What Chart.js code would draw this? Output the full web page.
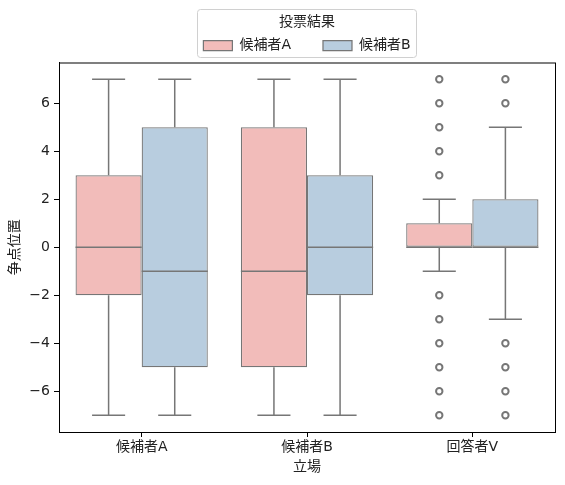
<!DOCTYPE html>
<html>
<head>
<meta charset="utf-8">
<script src="https://cdn.jsdelivr.net/npm/chart.js@4.4.1/dist/chart.umd.min.js"></script>
<style>
  body { margin: 0; background: #fff; }
</style>
</head>
<body>
<canvas id="myChart" width="565" height="485"></canvas>
<script>
// categories on the x axis
const categories = ["候補者A", "候補者B", "回答者V"];
const seriesNames = ["候補者A", "候補者B"];

// box stats per series, one value per category
const q1A = [-2, -5, 0];
const medA = [0, -1, 0];
const q3A = [3, 5, 1];
const loA = [-7, -7, -1];
const hiA = [7, 7, 2];
const outA = [[], [], [3, 4, 5, 6, 7, -2, -3, -4, -5, -6, -7]];

const q1B = [-5, -2, 0];
const medB = [-1, 0, 0];
const q3B = [5, 3, 2];
const loB = [-7, -7, -3];
const hiB = [7, 7, 5];
const outB = [[], [], [6, 7, -4, -5, -6, -7]];

const yTicks = [-6, -4, -2, 0, 2, 4, 6];

const stats = [
  { q1: q1A, med: medA, q3: q3A, lo: loA, hi: hiA, out: outA },
  { q1: q1B, med: medB, q3: q3B, lo: loB, hi: hiB, out: outB },
];

const lineGray = "#767676";
const textColor = "#222";
const fontFamily = "'DejaVu Sans', 'Noto Sans CJK JP', sans-serif";
const fontSize = 14;
const legendGap = 32;

// whiskers, medians, fliers, frame
const boxPlugin = {
  id: "boxParts",
  afterLayout(chart) {
    // center legend over the plot area
    const lg = chart.legend;
    lg.left = chart.chartArea.left;
    lg.right = chart.chartArea.right;
  },
  beforeDraw(chart) {
    const lg = chart.legend;
    const ctx = chart.ctx;
    const cx = (lg.left + lg.right) / 2;
    const w = lg.lineWidths[0] - legendGap + 12;
    const x0 = Math.round(cx - w / 2);
    const y0 = lg.top + 2;
    const h = 48;
    ctx.save();
    ctx.fillStyle = "#fff";
    ctx.strokeStyle = "#d0d0d0";
    ctx.lineWidth = 1;
    ctx.beginPath();
    ctx.roundRect(x0 + 0.5, y0 + 0.5, Math.round(w), h, 3);
    ctx.fill();
    ctx.stroke();
    ctx.restore();
  },
  afterDatasetsDraw(chart) {
    const ctx = chart.ctx;
    const y = chart.scales.y;
    ctx.save();
    ctx.strokeStyle = lineGray;
    ctx.lineWidth = 1.5;
    stats.forEach((s, d) => {
      const meta = chart.getDatasetMeta(d);
      meta.data.forEach((bar, i) => {
        const x = bar.x;
        const w = bar.width;
        ctx.beginPath();
        // whiskers
        ctx.moveTo(x, y.getPixelForValue(s.q3[i]));
        ctx.lineTo(x, y.getPixelForValue(s.hi[i]));
        ctx.moveTo(x, y.getPixelForValue(s.q1[i]));
        ctx.lineTo(x, y.getPixelForValue(s.lo[i]));
        // caps
        ctx.moveTo(x - w / 4, y.getPixelForValue(s.hi[i]));
        ctx.lineTo(x + w / 4, y.getPixelForValue(s.hi[i]));
        ctx.moveTo(x - w / 4, y.getPixelForValue(s.lo[i]));
        ctx.lineTo(x + w / 4, y.getPixelForValue(s.lo[i]));
        // median
        ctx.moveTo(x - w / 2, y.getPixelForValue(s.med[i]));
        ctx.lineTo(x + w / 2, y.getPixelForValue(s.med[i]));
        ctx.stroke();
        // fliers
        ctx.lineWidth = 2;
        s.out[i].forEach((v) => {
          ctx.beginPath();
          ctx.arc(x, y.getPixelForValue(v), 3.2, 0, Math.PI * 2);
          ctx.stroke();
        });
        ctx.lineWidth = 1.5;
      });
    });
    // axes frame
    const a = chart.chartArea;
    ctx.strokeStyle = "#000";
    ctx.lineWidth = 1;
    ctx.strokeRect(a.left + 0.5, a.top + 0.5, a.right - a.left, a.bottom - a.top);
    ctx.restore();
  },
};

const data = {
  labels: categories,
  datasets: [
    {
      label: seriesNames[0],
      data: categories.map((c, i) => [q1A[i], q3A[i]]),
      backgroundColor: "#f2bcba",
      borderColor: lineGray,
      borderWidth: 1.25,
      borderSkipped: false,
      categoryPercentage: 0.8,
      barPercentage: 1.0,
    },
    {
      label: seriesNames[1],
      data: categories.map((c, i) => [q1B[i], q3B[i]]),
      backgroundColor: "#b8cddf",
      borderColor: lineGray,
      borderWidth: 1.25,
      borderSkipped: false,
      categoryPercentage: 0.8,
      barPercentage: 1.0,
    },
  ],
};

const config = {
  type: "bar",
  data: data,
  options: {
    responsive: false,
    animation: false,
    layout: {
      padding: { left: 0, right: 10, top: 7, bottom: 0 },
    },
    scales: {
      x: {
        grid: { offset: false, drawOnChartArea: false, drawTicks: true, tickLength: 5, color: "#000" },
        border: { display: true, color: "#000" },
        ticks: { color: textColor, padding: 2, font: { size: fontSize, family: fontFamily } },
        title: {
          display: true,
          text: "立場",
          color: textColor,
          padding: { top: 0, bottom: 9 },
          font: { size: fontSize, family: fontFamily },
        },
        afterFit(scale) {
          scale.height = 53;
        },
      },
      y: {
        min: -7.7,
        max: 7.7,
        grid: { drawOnChartArea: false, drawTicks: true, tickLength: 5, color: "#000" },
        border: { display: true, color: "#000" },
        afterBuildTicks(scale) {
          scale.ticks = yTicks.map((v) => ({ value: v }));
        },
        ticks: {
          color: textColor,
          padding: 4,
          font: { size: fontSize, family: fontFamily },
          callback: (v) => String(v).replace("-", "\u2212"),
        },
        title: {
          display: true,
          text: "争点位置",
          color: textColor,
          padding: { top: 7, bottom: 0 },
          font: { size: fontSize, family: fontFamily },
        },
        afterFit(scale) {
          scale.width = 59;
        },
      },
    },
    plugins: {
      legend: {
        display: true,
        position: "top",
        title: {
          display: true,
          text: "投票結果",
          color: textColor,
          padding: { top: 8.5, bottom: -25.8 },
          font: { size: fontSize, family: fontFamily },
        },
        labels: {
          boxWidth: 29,
          boxHeight: 10,
          padding: legendGap,
          color: textColor,
          font: { size: fontSize, family: fontFamily },
        },
      },
      tooltip: { enabled: false },
    },
  },
  plugins: [boxPlugin],
};

const myChart = new Chart(document.getElementById("myChart"), config);
</script>
</body>
</html>
